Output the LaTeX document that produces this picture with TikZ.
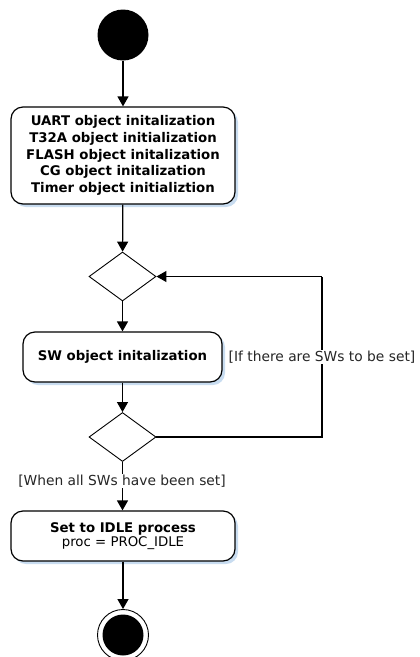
\documentclass[tikz,border=0pt]{standalone}
\usepackage{fontspec}
\setmainfont{DejaVu Sans}
\usetikzlibrary{arrows.meta,shapes.geometric,positioning}
\definecolor{shadowblue}{RGB}{200,220,240}
\tikzset{
  act/.style={draw=black,line width=1.2pt,rounded corners=12pt,fill=white,align=center,inner sep=0pt},
  actshadow/.style={fill=shadowblue,rounded corners=12pt,draw=none},
  dec/.style={draw=black,line width=0.9pt,diamond,minimum width=67pt,minimum height=49pt,inner sep=0pt,fill=white},
  flow/.style={line width=1.2pt,-{Triangle[width=11pt,length=10pt]}},
  guard/.style={fill=white,inner sep=1pt,font=\fontsize{13.8}{15}\selectfont,text=black!85},
  btext/.style={font=\fontsize{13.3}{16.7}\selectfont\bfseries}
}
\begin{document}
\begin{tikzpicture}[x=1pt,y=-1pt]
\useasboundingbox (0,0) rectangle (420,657);
% start
\node[circle,fill=black,minimum size=51pt,inner sep=0pt] (start) at (123,35) {};
% box 1
\fill[actshadow] (14,110) rectangle (238,207);
\node[act,minimum width=224pt,minimum height=97pt,btext] (init) at (123,155.5)
  {UART object initalization\\T32A object initialization\\FLASH object initalization\\CG object initalization\\Timer object initializtion};
% diamond 1
\node[dec] (d1) at (122.5,276.5) {};
% SW box
\fill[actshadow] (26,335) rectangle (225,385);
\node[act,minimum width=199pt,minimum height=50pt,btext] (sw) at (122.5,357) {SW object initalization};
% diamond 2
\node[dec] (d2) at (122.5,437) {};
% box 3
\fill[actshadow] (14,514) rectangle (238,564);
\node[act,minimum width=224pt,minimum height=50pt] (idle) at (123,536)
  {{\fontsize{13.3}{16.7}\selectfont\bfseries Set to IDLE process}\\[0pt]{\fontsize{13.3}{16.7}\selectfont proc = PROC\_IDLE}};
% end
\node[circle,draw=black,line width=0.9pt,minimum size=51pt,inner sep=0pt,fill=white] (end) at (123,635) {};
\node[circle,fill=black,minimum size=41pt,inner sep=0pt] (endin) at (123,635) {};
% connectors
\draw[flow] (start) -- (init);
\draw[flow] (init) -- (d1);
\draw[flow] (d1) -- (sw);
\draw[flow] (sw) -- (d2);
\coordinate (loopa) at (322,437);
\coordinate (loopb) at (322,276.5);
\draw[line width=1.2pt] (d2.east) -- (loopa) -- (loopb);
\draw[flow] (loopb) -- (d1.east);
\node[guard] (g1) at (322,357) {[If there are SWs to be set]};
\draw[flow] (d2.south) -- (d2.south |- idle.north);
\node[guard] (g2) at (122,481) {[When all SWs have been set]};
\draw[flow] (idle) -- (end);
\end{tikzpicture}
\end{document}
